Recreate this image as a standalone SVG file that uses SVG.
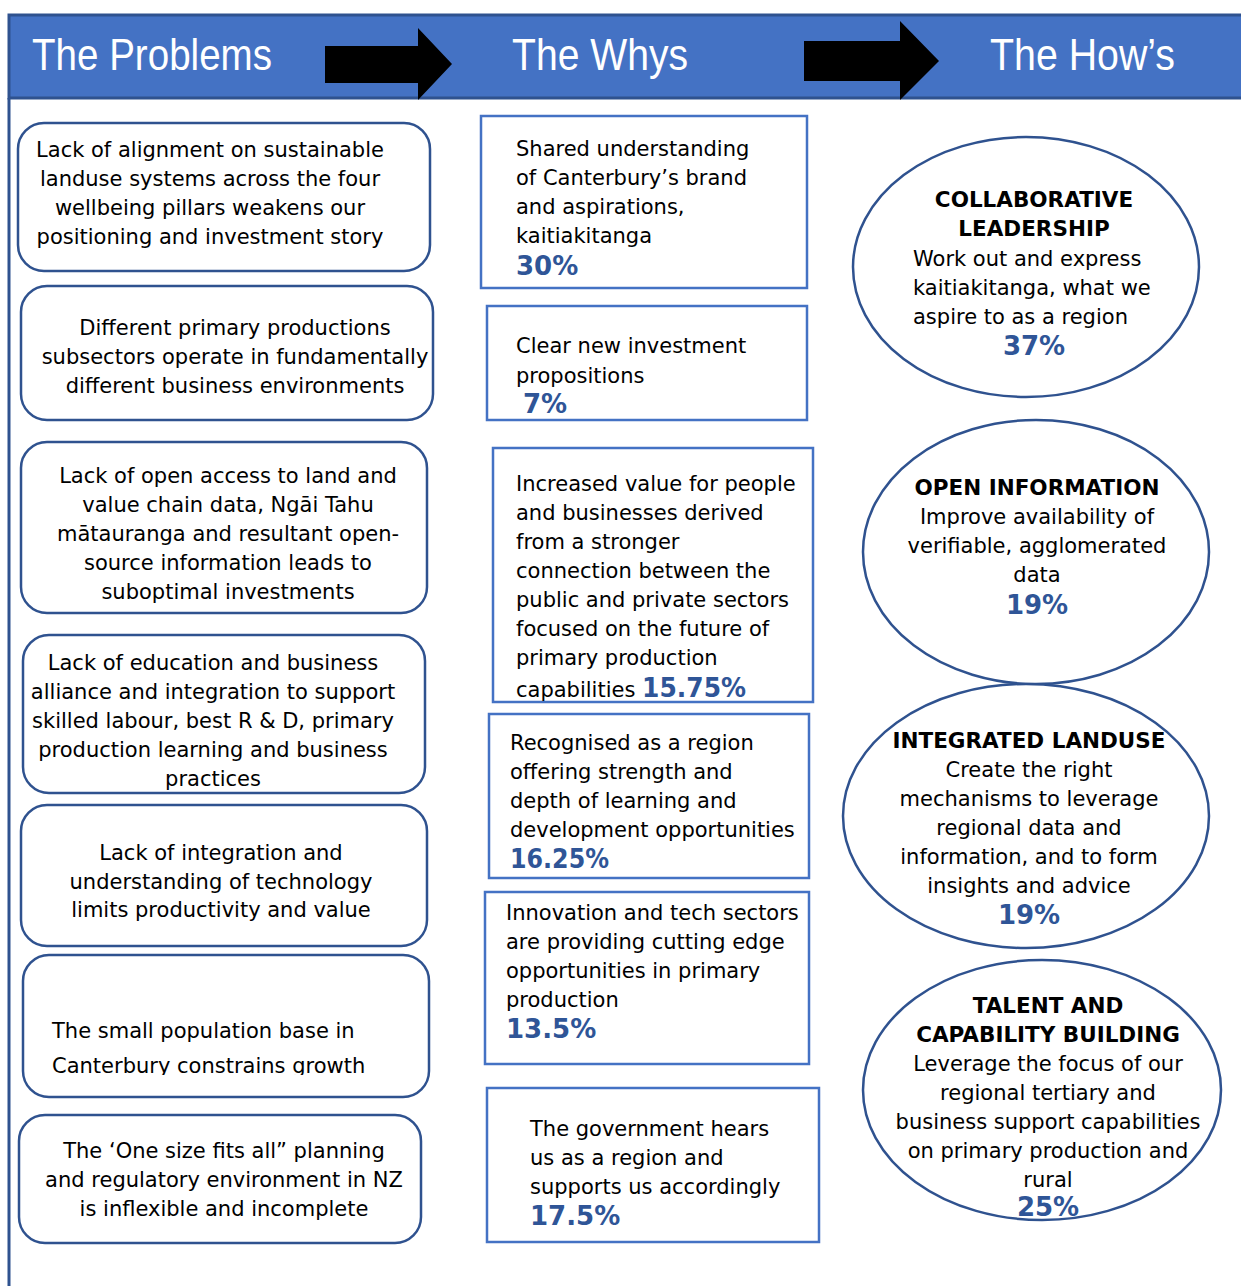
<svg xmlns="http://www.w3.org/2000/svg" width="1241" height="1286" viewBox="0 0 1241 1286">
<style>
.hdr{font-family:"Liberation Sans",Arial,sans-serif;font-size:44px;fill:#ffffff}
.t{font-family:"DejaVu Sans",Verdana,sans-serif;font-size:21px;fill:#000000}
.c{text-anchor:middle}
.b{font-family:"DejaVu Sans",Verdana,sans-serif;font-size:21.5px;font-weight:bold;fill:#000000}
.p{font-family:"DejaVu Sans",Verdana,sans-serif;font-size:26px;font-weight:bold;fill:#2F5597}
.prob{fill:#ffffff;stroke:#2F528F;stroke-width:2.5}
.why{fill:#ffffff;stroke:#4472C4;stroke-width:2.5}
.how{fill:#ffffff;stroke:#2F528F;stroke-width:2.5}
</style>
<defs>
<clipPath id="clip6"><rect x="0" y="900" width="460" height="175"/></clipPath>
<clipPath id="clipE3"><rect x="830" y="680" width="400" height="246"/></clipPath>
<clipPath id="clipE4"><rect x="830" y="950" width="400" height="268"/></clipPath>
</defs>
<rect width="1241" height="1286" fill="#ffffff"/>
<g id="header">
<rect x="9" y="15" width="1240" height="83" fill="#4472C4" stroke="#2F528F" stroke-width="3"/>
<line x1="9" y1="98" x2="9" y2="1286" stroke="#2F528F" stroke-width="3"/>
<text class="hdr" x="32" y="70" textLength="240" lengthAdjust="spacingAndGlyphs">The Problems</text>
<text class="hdr" x="512" y="70" textLength="176" lengthAdjust="spacingAndGlyphs">The Whys</text>
<text class="hdr" x="990" y="70" textLength="185" lengthAdjust="spacingAndGlyphs">The How’s</text>
</g>
<g id="connectors">
<polygon points="325,46 418,46 418,28 452,64 418,100 418,83 325,83" fill="#000000"/>
<polygon points="804,41 900,41 900,21 939,61 900,100 900,81 804,81" fill="#000000"/>
</g>
<g id="problem1">
<rect class="prob" x="18" y="123" width="412" height="148" rx="26"/>
<text class="t c" x="210" y="157">Lack of alignment on sustainable</text>
<text class="t c" x="210" y="186">landuse systems across the four</text>
<text class="t c" x="210" y="215">wellbeing pillars weakens our</text>
<text class="t c" x="210" y="244">positioning and investment story</text>
</g>
<g id="problem2">
<rect class="prob" x="21" y="286" width="412" height="134" rx="26"/>
<text class="t c" x="235" y="335">Different primary productions</text>
<text class="t c" x="235" y="364">subsectors operate in fundamentally</text>
<text class="t c" x="235" y="393">different business environments</text>
</g>
<g id="problem3">
<rect class="prob" x="21" y="442" width="406" height="171" rx="26"/>
<text class="t c" x="228" y="483">Lack of open access to land and</text>
<text class="t c" x="228" y="512">value chain data, Ngāi Tahu</text>
<text class="t c" x="228" y="541">mātauranga and resultant open-</text>
<text class="t c" x="228" y="570">source information leads to</text>
<text class="t c" x="228" y="599">suboptimal investments</text>
</g>
<g id="problem4">
<rect class="prob" x="23" y="635" width="402" height="158" rx="26"/>
<text class="t c" x="213" y="670">Lack of education and business</text>
<text class="t c" x="213" y="699">alliance and integration to support</text>
<text class="t c" x="213" y="728">skilled labour, best R &amp; D, primary</text>
<text class="t c" x="213" y="757">production learning and business</text>
<text class="t c" x="213" y="786">practices</text>
</g>
<g id="problem5">
<rect class="prob" x="21" y="805" width="406" height="141" rx="26"/>
<text class="t c" x="221" y="860">Lack of integration and</text>
<text class="t c" x="221" y="889">understanding of technology</text>
<text class="t c" x="221" y="917">limits productivity and value</text>
</g>
<g id="problem6">
<rect class="prob" x="23" y="955" width="406" height="142" rx="26"/>
<g clip-path="url(#clip6)">
<text class="t" x="52" y="1038">The small population base in</text>
<text class="t" x="52" y="1073">Canterbury constrains growth</text>
</g>
</g>
<g id="problem7">
<rect class="prob" x="19" y="1115" width="402" height="128" rx="26"/>
<text class="t c" x="224" y="1158">The ‘One size fits all” planning</text>
<text class="t c" x="224" y="1187">and regulatory environment in NZ</text>
<text class="t c" x="224" y="1216">is inflexible and incomplete</text>
</g>
<g id="why1">
<rect class="why" x="481" y="116" width="326" height="172"/>
<text class="t" x="516" y="156">Shared understanding</text>
<text class="t" x="516" y="185">of Canterbury’s brand</text>
<text class="t" x="516" y="214">and aspirations,</text>
<text class="t" x="516" y="243">kaitiakitanga</text>
<text class="p" x="516" y="275">30%</text>
</g>
<g id="why2">
<rect class="why" x="487" y="306" width="320" height="114"/>
<text class="t" x="516" y="353">Clear new investment</text>
<text class="t" x="516" y="383">propositions</text>
<text class="p" x="523" y="413">7%</text>
</g>
<g id="why3">
<rect class="why" x="493" y="448" width="320" height="254"/>
<text class="t" x="516" y="491">Increased value for people</text>
<text class="t" x="516" y="520">and businesses derived</text>
<text class="t" x="516" y="549">from a stronger</text>
<text class="t" x="516" y="578">connection between the</text>
<text class="t" x="516" y="607">public and private sectors</text>
<text class="t" x="516" y="636">focused on the future of</text>
<text class="t" x="516" y="665">primary production</text>
<text class="t" x="516" y="697">capabilities <tspan class="p" textLength="104" lengthAdjust="spacingAndGlyphs">15.75%</tspan></text>
</g>
<g id="why4">
<rect class="why" x="489" y="714" width="320" height="164"/>
<text class="t" x="510" y="750">Recognised as a region</text>
<text class="t" x="510" y="779">offering strength and</text>
<text class="t" x="510" y="808">depth of learning and</text>
<text class="t" x="510" y="837">development opportunities</text>
<text class="p" x="510" y="868" textLength="99" lengthAdjust="spacingAndGlyphs">16.25%</text>
</g>
<g id="why5">
<rect class="why" x="485" y="892" width="324" height="172"/>
<text class="t" x="506" y="920">Innovation and tech sectors</text>
<text class="t" x="506" y="949">are providing cutting edge</text>
<text class="t" x="506" y="978">opportunities in primary</text>
<text class="t" x="506" y="1007">production</text>
<text class="p" x="506" y="1038">13.5%</text>
</g>
<g id="why6">
<rect class="why" x="487" y="1088" width="332" height="154"/>
<text class="t" x="530" y="1136">The government hears</text>
<text class="t" x="530" y="1165">us as a region and</text>
<text class="t" x="530" y="1194">supports us accordingly</text>
<text class="p" x="530" y="1225">17.5%</text>
</g>
<g id="how1">
<ellipse class="how" cx="1026" cy="267" rx="173" ry="130"/>
<text class="b c" x="1034" y="207">COLLABORATIVE</text>
<text class="b c" x="1034" y="236">LEADERSHIP</text>
<text class="t" x="913" y="266">Work out and express</text>
<text class="t" x="913" y="295">kaitiakitanga, what we</text>
<text class="t" x="913" y="324">aspire to as a region</text>
<text class="p c" x="1034" y="355">37%</text>
</g>
<g id="how2">
<ellipse class="how" cx="1036" cy="552" rx="173" ry="132"/>
<text class="b c" x="1037" y="495">OPEN INFORMATION</text>
<text class="t c" x="1037" y="524">Improve availability of</text>
<text class="t c" x="1037" y="553">verifiable, agglomerated</text>
<text class="t c" x="1037" y="582">data</text>
<text class="p c" x="1037" y="614">19%</text>
</g>
<g id="how3">
<ellipse class="how" cx="1026" cy="816" rx="183" ry="132"/>
<text class="b c" x="1029" y="748">INTEGRATED LANDUSE</text>
<text class="t c" x="1029" y="777">Create the right</text>
<text class="t c" x="1029" y="806">mechanisms to leverage</text>
<text class="t c" x="1029" y="835">regional data and</text>
<text class="t c" x="1029" y="864">information, and to form</text>
<text class="t c" x="1029" y="893">insights and advice</text>
<text class="p c" x="1029" y="924" clip-path="url(#clipE3)">19%</text>
</g>
<g id="how4">
<ellipse class="how" cx="1042" cy="1090" rx="179" ry="130"/>
<text class="b c" x="1048" y="1013">TALENT AND</text>
<text class="b c" x="1048" y="1042">CAPABILITY BUILDING</text>
<text class="t c" x="1048" y="1071">Leverage the focus of our</text>
<text class="t c" x="1048" y="1100">regional tertiary and</text>
<text class="t c" x="1048" y="1129">business support capabilities</text>
<text class="t c" x="1048" y="1158">on primary production and</text>
<text class="t c" x="1048" y="1187">rural</text>
<text class="p c" x="1048" y="1216" clip-path="url(#clipE4)">25%</text>
</g>
</svg>
